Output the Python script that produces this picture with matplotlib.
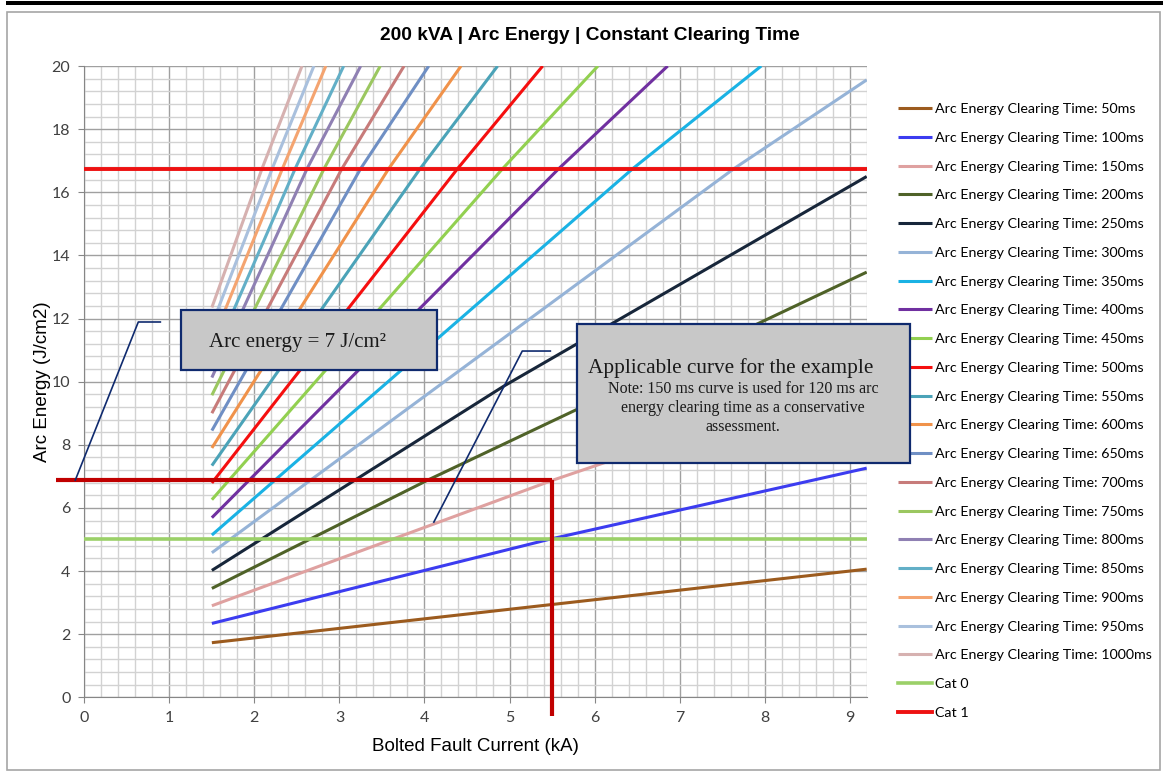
import numpy as np
import matplotlib
matplotlib.use('Agg')
import matplotlib.pyplot as plt
from matplotlib.patches import Rectangle
from matplotlib.ticker import MultipleLocator

# clearing times (ms) and colours of each curve
clear_times = [50, 100, 150, 200, 250, 300, 350, 400, 450, 500,
               550, 600, 650, 700, 750, 800, 850, 900, 950, 1000]
colors = ['#9C5B1E', '#3C3CF0', '#DFA1A0', '#4F6228', '#17263A',
          '#95B3D7', '#1AB2E4', '#7030A0', '#92D050', '#F50F0F',
          '#4BA3B8', '#F0924A', '#6F8FC4', '#C77B7A', '#9BC760',
          '#8F80B3', '#62AFC7', '#F4A470', '#A9C0DD', '#D6B1B0']

# every curve starts at 1.5 kA
start_x = 1.5
start_y = [1.73, 2.34, 2.90, 3.45, 4.02, 4.58, 5.14, 5.69, 6.26, 6.79,
           7.34, 7.90, 8.45, 9.00, 9.57, 10.13, 10.68, 11.24, 11.80, 12.35]
# one point in the middle
mid_x = [5.50, 5.46, 5.50, 4.03, 4.94, 7.64, 6.45, 5.58, 4.92, 4.39,
         3.95, 3.58, 3.25, 3.03, 2.82, 2.62, 2.48, 2.33, 2.21, 2.09]
mid_y = [2.94, 5.00, 6.87, 6.87, 9.87, 16.75, 16.75, 16.75, 16.75, 16.75,
         16.75, 16.75, 16.75, 16.75, 16.75, 16.75, 16.75, 16.75, 16.75, 16.75]
# end point (right edge or top of chart)
end_x = [9.2, 9.2, 9.2, 9.2, 9.2, 9.2, 7.96, 6.86, 6.04, 5.39,
         4.86, 4.43, 4.05, 3.76, 3.48, 3.25, 3.05, 2.84, 2.70, 2.56]
end_y = [4.06, 7.26, 10.25, 13.47, 16.50, 19.56, 20, 20, 20, 20,
         20, 20, 20, 20, 20, 20, 20, 20, 20, 20]

cat0_level = 5.0
cat1_level = 16.75

# worked example: 5.5 kA on the 150 ms curve
ex_current = 5.5
ex_energy = 6.87

W, H = 1163, 772

def fx(px):
    return px / W

def fy(py):
    return 1 - py / H

fig = plt.figure(figsize=(W / 100, H / 100), dpi=100)
fig.patch.set_facecolor('white')

# frame around the picture + black bar at top
fig.add_artist(Rectangle((fx(7), fy(770)), fx(1153), 758 / H, transform=fig.transFigure,
                         fill=False, ec='#A6A6A6', lw=1.2))
fig.add_artist(Rectangle((fx(6), fy(5)), fx(1157), 3.5 / H, transform=fig.transFigure,
                         fc='black', ec='none'))

ax = fig.add_axes([fx(84.3), fy(697.3), fx(866.7 - 84.3), (697.3 - 66) / H])

for i in range(len(clear_times)):
    xs = [start_x, mid_x[i], end_x[i]]
    ys = [start_y[i], mid_y[i], end_y[i]]
    ax.plot(xs, ys, color=colors[i], lw=2.2, solid_capstyle='butt',
            label='Arc Energy Clearing Time: ' + str(clear_times[i]) + 'ms', zorder=3)

ax.axhline(cat0_level, color='#9BD068', lw=2.6, label='Cat 0', zorder=4)
ax.axhline(cat1_level, color='#EE1111', lw=2.8, label='Cat 1', zorder=4)

ax.set_xlim(0, 9.2)
ax.set_ylim(0, 20)
ax.xaxis.set_major_locator(MultipleLocator(1))
ax.xaxis.set_minor_locator(MultipleLocator(0.2))
ax.yaxis.set_major_locator(MultipleLocator(2))
ax.yaxis.set_minor_locator(MultipleLocator(0.4))
ax.grid(which='major', color='#A0A0A0', lw=1.0)
ax.grid(which='minor', color='#D2D2D2', lw=1.0)
ax.set_axisbelow(True)
for s in ['top', 'right']:
    ax.spines[s].set_visible(False)
for s in ['left', 'bottom']:
    ax.spines[s].set_color('#868686')
ax.tick_params(which='major', length=4, color='#868686', labelcolor='#404040',
               labelsize=11.5, pad=6)
ax.tick_params(which='minor', length=0)
for lab in ax.get_xticklabels() + ax.get_yticklabels():
    lab.set_family('Lato')

ax.set_xlabel('Bolted Fault Current (kA)', family='Liberation Sans', fontsize=13.5, labelpad=9)
ax.set_ylabel('Arc Energy (J/cm2)', family='Liberation Sans', fontsize=13.5, labelpad=0.5)
fig.text(fx(590), fy(36), '200 kVA | Arc Energy | Constant Clearing Time', ha='center',
         va='center', family='Liberation Sans', fontweight='bold', fontsize=13.8)

leg = ax.legend(loc='upper left', bbox_to_anchor=(fx(898), fy(103)), bbox_transform=fig.transFigure,
                frameon=False, prop={'family': 'Lato', 'size': 10.3}, handlelength=2.4,
                handletextpad=0.2, labelspacing=1.17, borderpad=0, borderaxespad=0)

# red guide lines of the example (drawn past the axes)
red_dark = '#C00000'
ax.plot([-0.33, ex_current], [ex_energy, ex_energy], color=red_dark, lw=3.0, clip_on=False, zorder=6,
        solid_capstyle='butt')
ax.plot([ex_current, ex_current], [ex_energy, -0.59], color=red_dark, lw=3.0, clip_on=False, zorder=6,
        solid_capstyle='butt')

# leader lines of the call-outs
navy = '#0F2A6E'
ax.plot([-0.106, 0.635, 0.894], [6.88, 11.89, 11.89], color=navy, lw=1.2, clip_on=False, zorder=7)
ax.plot([4.11, 5.15, 5.48], [5.55, 10.97, 10.97], color=navy, lw=1.2, clip_on=False, zorder=7)

# call-out boxes
fig.add_artist(Rectangle((fx(181), fy(370)), fx(437 - 181), 60 / H, transform=fig.transFigure,
                         fc='#C8C8C8', ec=navy, lw=1.6, zorder=5))
fig.text(fx(209), fy(342), 'Arc energy = 7 J/cm\u00b2', ha='left', va='center',
         family='Liberation Serif', fontsize=15, color='#1a1a1a', zorder=6)
fig.add_artist(Rectangle((fx(577), fy(463)), fx(910 - 577), 139 / H, transform=fig.transFigure,
                         fc='#C8C8C8', ec=navy, lw=1.6, zorder=5))
fig.text(fx(731), fy(368), 'Applicable curve for the example', ha='center', va='center',
         family='Liberation Serif', fontsize=15.3, color='#1a1a1a', zorder=6)
fig.text(fx(743), fy(408), 'Note: 150 ms curve is used for 120 ms arc\nenergy clearing time as a conservative\nassessment.',
         ha='center', va='center', family='Liberation Serif', fontsize=11.5, color='#1a1a1a',
         linespacing=1.28, zorder=6)

plt.savefig('out.png', dpi=100)
